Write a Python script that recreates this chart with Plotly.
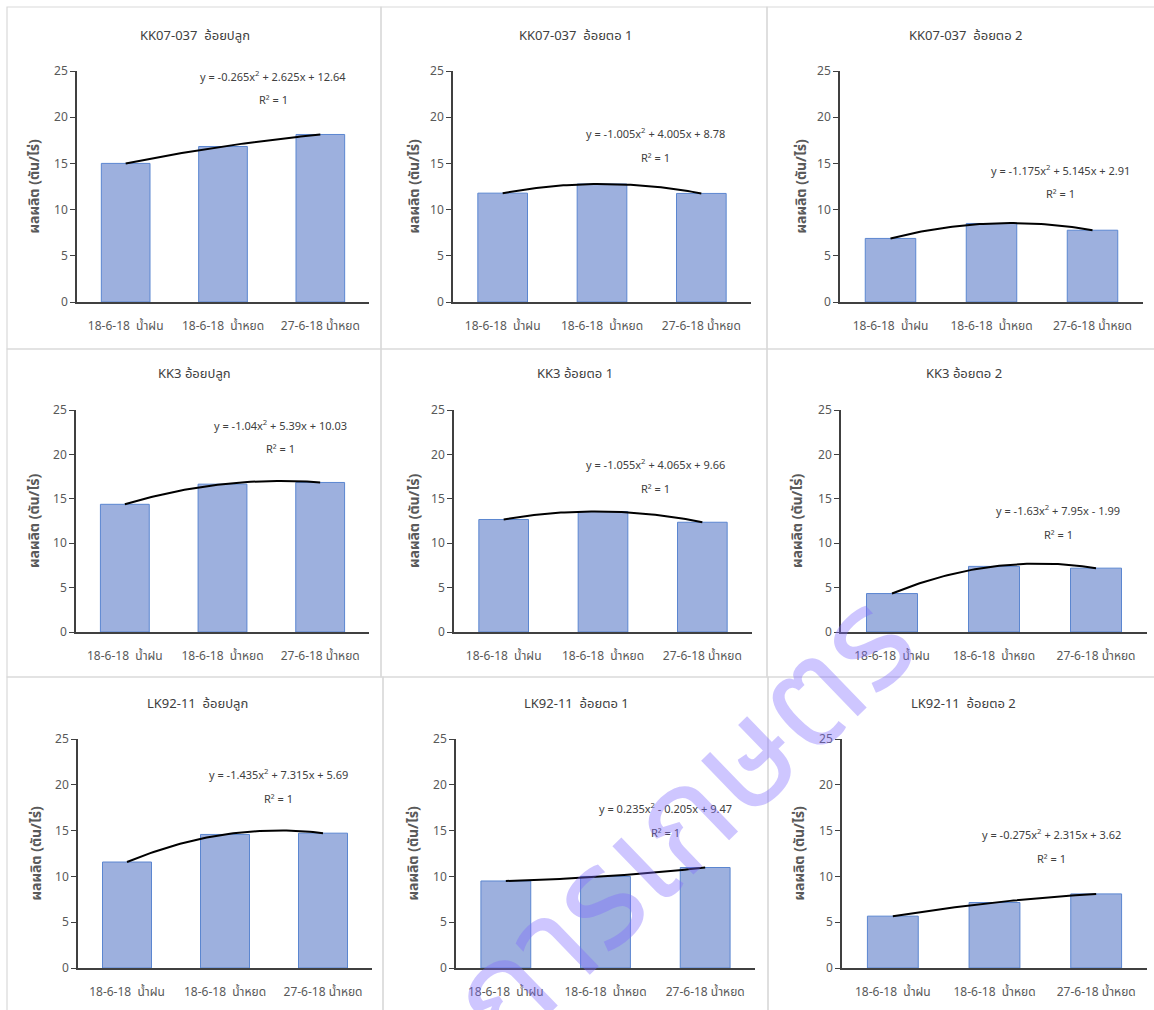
import numpy as np
import plotly.graph_objects as go

W, H = 1154, 1010

# ---------------- data ----------------
categories = ["18-6-18  น้ำฝน", "18-6-18  น้ำหยด", "27-6-18 น้ำหยด"]

kk07_plant = [15.0, 16.83, 18.13]
kk07_ratoon1 = [11.78, 12.77, 11.75]
kk07_ratoon2 = [6.88, 8.5, 7.77]
kk3_plant = [14.38, 16.65, 16.84]
kk3_ratoon1 = [12.67, 13.57, 12.36]
kk3_ratoon2 = [4.33, 7.39, 7.19]
lk92_plant = [11.57, 14.58, 14.72]
lk92_ratoon1 = [9.5, 10.0, 10.97]
lk92_ratoon2 = [5.66, 7.15, 8.09]

titles = ["KK07-037  อ้อยปลูก", "KK07-037  อ้อยตอ 1", "KK07-037  อ้อยตอ 2",
          "KK3 อ้อยปลูก", "KK3 อ้อยตอ 1", "KK3 อ้อยตอ 2",
          "LK92-11  อ้อยปลูก", "LK92-11  อ้อยตอ 1", "LK92-11  อ้อยตอ 2"]

equations = ["y = -0.265x<sup>2</sup> + 2.625x + 12.64",
             "y = -1.005x<sup>2</sup> + 4.005x + 8.78",
             "y = -1.175x<sup>2</sup> + 5.145x + 2.91",
             "y = -1.04x<sup>2</sup> + 5.39x + 10.03",
             "y = -1.055x<sup>2</sup> + 4.065x + 9.66",
             "y = -1.63x<sup>2</sup> + 7.95x - 1.99",
             "y = -1.435x<sup>2</sup> + 7.315x + 5.69",
             "y = 0.235x<sup>2</sup> - 0.205x + 9.47",
             "y = -0.275x<sup>2</sup> + 2.315x + 3.62"]

series = [kk07_plant, kk07_ratoon1, kk07_ratoon2,
          kk3_plant, kk3_ratoon1, kk3_ratoon2,
          lk92_plant, lk92_ratoon1, lk92_ratoon2]

y_ticks = [0, 5, 10, 15, 20, 25]
y_title = "ผลผลิต (ตัน/ไร่)"
watermark = "การเกษตร"

# ---------------- layout geometry (pixels) ----------------
# plot areas: (x0, x1, ytop, ybottom)
areas = [(77, 369, 71, 302), (453, 751, 71, 302), (840, 1143, 71, 302),
         (76, 369, 410, 632), (454, 752, 410, 632), (841, 1147, 410, 632),
         (78, 372, 739, 968), (456, 755, 739, 968), (842, 1147, 739, 968)]
# panel frames (x0, x1, y0, y1)
frames = [(7, 381, 7, 349), (381, 767, 7, 349), (767, 1160, 7, 349),
          (7, 381, 349, 677), (381, 767, 349, 677), (767, 1160, 349, 677),
          (7, 383, 677, 1020), (383, 768, 677, 1020), (768, 1160, 677, 1020)]
title_pos = [(195, 35), (575, 35), (965, 35),
             (194, 373), (575, 373), (964, 373),
             (197, 703), (576, 703), (964, 703)]
eq_pos = [(273, 76), (655, 133), (1060, 170),
          (280, 425), (655, 464), (1058, 510),
          (278, 774), (665, 808), (1051, 834)]
ytitle_x = [33, 413, 800, 33, 413, 796, 35, 412, 798]


def px(x):
    return x / W


def py(y):
    return 1 - y / H


FONT = "Tahoma, 'Noto Sans', 'Noto Sans Thai', sans-serif"
TXT = "#595959"

fig = go.Figure()
annotations = []
shapes = []

for i, vals in enumerate(series):
    k = "" if i == 0 else str(i + 1)
    xa, ya = "x" + k, "y" + k
    x0, x1, yt, yb = areas[i]
    xpos = list(range(len(categories)))

    fig.add_trace(go.Bar(
        x=xpos, y=vals, xaxis=xa, yaxis=ya, width=0.5,
        marker=dict(color="#9db0de", line=dict(color="#5b86d0", width=1)),
        showlegend=False, hoverinfo="y"))

    coef = np.polyfit(np.arange(1, len(vals) + 1), vals, 2)
    xs = np.linspace(0, len(vals) - 1, 60)
    ys = np.polyval(coef, xs + 1)
    fig.add_trace(go.Scatter(
        x=xs, y=ys, xaxis=xa, yaxis=ya, mode="lines",
        line=dict(color="#000000", width=2), showlegend=False, hoverinfo="skip"))

    fig.layout["xaxis" + k] = dict(
        domain=[px(x0), px(x1)], anchor=ya, range=[-0.5, len(categories) - 0.5],
        tickvals=xpos, ticktext=categories, showgrid=False, zeroline=False,
        showline=True, linecolor="#404040", linewidth=1.5, ticks="",
        ticklabelstandoff=12, automargin=False,
        tickfont=dict(family=FONT, size=12, color=TXT), fixedrange=True)
    fig.layout["yaxis" + k] = dict(
        domain=[py(yb), py(yt)], anchor=xa, range=[0, 25], tickvals=y_ticks,
        showgrid=False, zeroline=False, showline=True, linecolor="#404040",
        linewidth=1.5, ticks="outside", ticklen=5, tickcolor="#404040",
        automargin=False,
        tickfont=dict(family=FONT, size=12, color=TXT), fixedrange=True)

    fx0, fx1, fy0, fy1 = frames[i]
    shapes.append(dict(type="rect", xref="paper", yref="paper",
                       x0=px(fx0), x1=px(fx1), y0=py(fy1), y1=py(fy0),
                       line=dict(color="#d9d9d9", width=1.2), layer="below"))

    tx, ty = title_pos[i]
    annotations.append(dict(text=titles[i], x=px(tx), y=py(ty), xref="paper", yref="paper",
                            showarrow=False, xanchor="center", yanchor="middle",
                            font=dict(family=FONT, size=13, color="#404040")))
    ex, ey = eq_pos[i]
    annotations.append(dict(text=equations[i], x=px(ex), y=py(ey), xref="paper", yref="paper",
                            showarrow=False, xanchor="center", yanchor="middle",
                            font=dict(family=FONT, size=11, color="#404040")))
    annotations.append(dict(text="R² = 1", x=px(ex), y=py(ey + 24), xref="paper", yref="paper",
                            showarrow=False, xanchor="center", yanchor="middle",
                            font=dict(family=FONT, size=11, color="#404040")))
    annotations.append(dict(text="<b>" + y_title + "</b>", x=px(ytitle_x[i]), y=py((yt + yb) / 2),
                            xref="paper", yref="paper", showarrow=False, textangle=-90,
                            xanchor="center", yanchor="middle",
                            font=dict(family=FONT, size=14, color=TXT)))

# watermark
annotations.append(dict(text=watermark, x=px(676), y=py(815), xref="paper", yref="paper",
                        showarrow=False, textangle=-44, xanchor="center", yanchor="middle",
                        font=dict(family=FONT, size=140, color="rgba(125,105,255,0.38)")))

fig.update_layout(width=W, height=H,
                  margin=dict(l=0, r=0, t=0, b=0, pad=0, autoexpand=False),
                  paper_bgcolor="white", plot_bgcolor="white",
                  annotations=annotations, shapes=shapes, bargap=0.5)

fig.write_html("out.html", config={"displayModeBar": False},
               post_script="document.body.style.margin='0';"
                           "document.body.style.overflow='hidden';")
